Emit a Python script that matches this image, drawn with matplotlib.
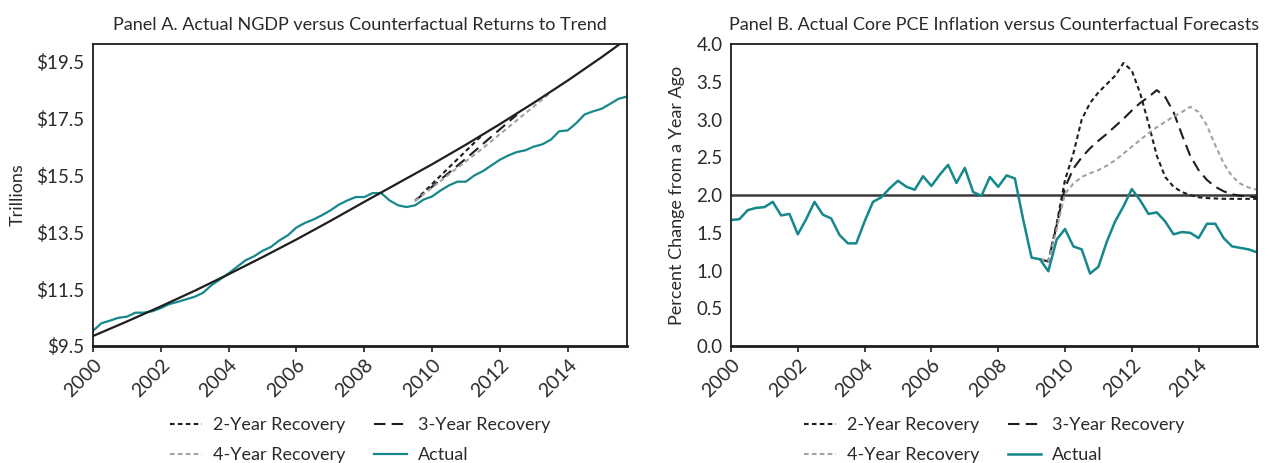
import numpy as np
import matplotlib
matplotlib.use("Agg")
import matplotlib.pyplot as plt

plt.rcParams["font.family"] = ["Lato", "DejaVu Sans"]

# quarterly dates 2000Q1 - 2015Q4
quarters = 2000 + np.arange(64) * 0.25

# Panel A: nominal GDP, trillions
ngdp_actual = [
    10.03, 10.30, 10.39, 10.49, 10.53, 10.67, 10.67, 10.72,
    10.83, 10.97, 11.05, 11.14, 11.23, 11.37, 11.64, 11.84,
    12.05, 12.28, 12.51, 12.65, 12.84, 12.98, 13.21, 13.39,
    13.66, 13.82, 13.94, 14.09, 14.26, 14.46, 14.61, 14.73,
    14.73, 14.87, 14.87, 14.61, 14.44, 14.38, 14.44, 14.64,
    14.75, 14.96, 15.14, 15.27, 15.27, 15.49, 15.64, 15.84,
    16.04, 16.19, 16.31, 16.37, 16.50, 16.58, 16.74, 17.04,
    17.07, 17.32, 17.63, 17.74, 17.83, 18.00, 18.18, 18.26,
]
trend_years = list(range(2000, 2017))
ngdp_trend = [
    9.85, 10.36, 10.89, 11.44, 12.02, 12.62, 13.24, 13.89, 14.56,
    15.22, 15.88, 16.57, 17.29, 18.04, 18.82, 19.64, 20.50,
]
ngdp_2yr_x = [2009.5, 2010.5, 2011.5]
ngdp_2yr = [14.60, 15.77, 16.93]
ngdp_3yr_x = [2009.5, 2011.0, 2012.5]
ngdp_3yr = [14.60, 16.08, 17.62]
ngdp_4yr_x = [2009.5, 2011.5, 2013.5]
ngdp_4yr = [14.60, 16.45, 18.40]

# Panel B: core PCE inflation, percent change from a year ago
pce_actual = [
    1.67, 1.68, 1.80, 1.83, 1.84, 1.91, 1.73, 1.75,
    1.48, 1.68, 1.91, 1.74, 1.69, 1.47, 1.36, 1.36,
    1.65, 1.91, 1.97, 2.09, 2.19, 2.11, 2.07, 2.25,
    2.12, 2.27, 2.40, 2.16, 2.36, 2.04, 1.99, 2.24,
    2.11, 2.26, 2.22, 1.67, 1.17, 1.15, 0.99, 1.41,
    1.55, 1.32, 1.28, 0.96, 1.05, 1.38, 1.65, 1.85,
    2.08, 1.93, 1.75, 1.77, 1.65, 1.48, 1.51, 1.50,
    1.43, 1.62, 1.62, 1.43, 1.32, 1.30, 1.28, 1.24,
]
cf_quarters = quarters[37:]  # 2009Q2 onward
pce_2yr = [
    1.15, 1.12, 1.62, 2.20, 2.55, 3.00, 3.22, 3.36, 3.47, 3.58,
    3.75, 3.65, 3.35, 2.95, 2.52, 2.24, 2.11, 2.04, 2.00, 1.97,
    1.96, 1.955, 1.95, 1.95, 1.95, 1.95, 1.95,
]
pce_3yr = [
    1.15, 1.12, 1.60, 2.10, 2.35, 2.50, 2.62, 2.72, 2.81, 2.91,
    3.01, 3.12, 3.22, 3.30, 3.39, 3.30, 3.10, 2.80, 2.52, 2.33,
    2.20, 2.11, 2.05, 2.01, 1.99, 1.98, 1.97,
]
pce_4yr = [
    1.15, 1.12, 1.55, 2.02, 2.15, 2.24, 2.29, 2.33, 2.39, 2.46,
    2.55, 2.64, 2.73, 2.82, 2.90, 2.97, 3.04, 3.10, 3.17, 3.10,
    2.92, 2.66, 2.42, 2.25, 2.15, 2.10, 2.07,
]
target = 2.0

TEAL = "#16878c"
GRAY = "#a3a3a5"
DARK = "#1e1e1e"
TEXT = "#2a2a2a"

year_ticks = list(range(2000, 2016, 2))


def style_axis(ax):
    for side in ["top", "right", "left", "bottom"]:
        ax.spines[side].set_color(DARK)
        ax.spines[side].set_linewidth(1.3)
    ax.spines["bottom"].set_linewidth(2.0)
    ax.set_xlim(2000, 2015.75)
    ax.set_xticks(year_ticks)
    ax.set_xticklabels([str(y) for y in year_ticks], rotation=45,
                       ha="right", rotation_mode="anchor")
    ax.tick_params(axis="x", length=4, width=1.2, colors=DARK,
                   labelcolor=TEXT, labelsize=14, pad=3)
    ax.tick_params(axis="y", length=0, labelcolor=TEXT, labelsize=13.5, pad=6)


def add_legend(ax):
    handles, labels = ax.get_legend_handles_labels()
    order = [labels.index(k) for k in
             ["2-Year Recovery", "4-Year Recovery", "3-Year Recovery", "Actual"]]
    ax.legend([handles[i] for i in order], [labels[i] for i in order],
              ncol=2, loc="upper center", bbox_to_anchor=(0.5, -0.187),
              frameon=False, fontsize=13, handlelength=1.8,
              columnspacing=1.6, labelspacing=0.8, handletextpad=0.6,
              labelcolor=TEXT, borderpad=0.3)


fig = plt.figure(figsize=(12.7, 4.63), dpi=100)
ax1 = fig.add_axes([0.0732, 0.2527, 0.4205, 0.652])
ax2 = fig.add_axes([0.5756, 0.2527, 0.4142, 0.652])

# Panel A
ax1.plot(trend_years, ngdp_trend, color=DARK, lw=1.6, zorder=3)
ax1.plot(ngdp_2yr_x, ngdp_2yr, color=DARK, lw=1.5, dashes=(2.2, 1.6),
         label="2-Year Recovery")
ax1.plot(ngdp_3yr_x, ngdp_3yr, color=DARK, lw=1.5, dashes=(5.5, 3),
         label="3-Year Recovery")
ax1.plot(ngdp_4yr_x, ngdp_4yr, color=GRAY, lw=1.5, dashes=(2.2, 1.6),
         label="4-Year Recovery")
ax1.plot(quarters, ngdp_actual, color=TEAL, lw=1.6, label="Actual")
ax1.set_ylim(9.5, 20.1)
ax1.set_yticks([9.5, 11.5, 13.5, 15.5, 17.5, 19.5])
ax1.set_yticklabels(["$9.5", "$11.5", "$13.5", "$15.5", "$17.5", "$19.5"])
ax1.set_ylabel("Trillions", fontsize=13, color=TEXT, labelpad=8)
ax1.set_title("Panel A. Actual NGDP versus Counterfactual Returns to Trend",
              fontsize=13, color=TEXT, pad=10)
style_axis(ax1)
add_legend(ax1)

# Panel B
ax2.axhline(target, color="#3a3a3a", lw=1.8, zorder=1)
ax2.plot(cf_quarters, pce_2yr, color=DARK, lw=1.5, dashes=(2.2, 1.6),
         label="2-Year Recovery")
ax2.plot(cf_quarters, pce_3yr, color=DARK, lw=1.5, dashes=(5.5, 3),
         label="3-Year Recovery")
ax2.plot(cf_quarters, pce_4yr, color=GRAY, lw=1.5, dashes=(2.2, 1.6),
         label="4-Year Recovery")
ax2.plot(quarters, pce_actual, color=TEAL, lw=1.8, label="Actual")
ax2.set_ylim(0, 4)
ax2.set_yticks(np.arange(0, 4.01, 0.5))
ax2.set_yticklabels([f"{v:.1f}" for v in np.arange(0, 4.01, 0.5)])
ax2.set_ylabel("Percent Change from a Year Ago", fontsize=13, color=TEXT,
               labelpad=8)
ax2.set_title("Panel B. Actual Core PCE Inflation versus Counterfactual Forecasts",
              fontsize=13, color=TEXT, pad=10)
style_axis(ax2)
add_legend(ax2)

fig.savefig("out.png", dpi=100)
